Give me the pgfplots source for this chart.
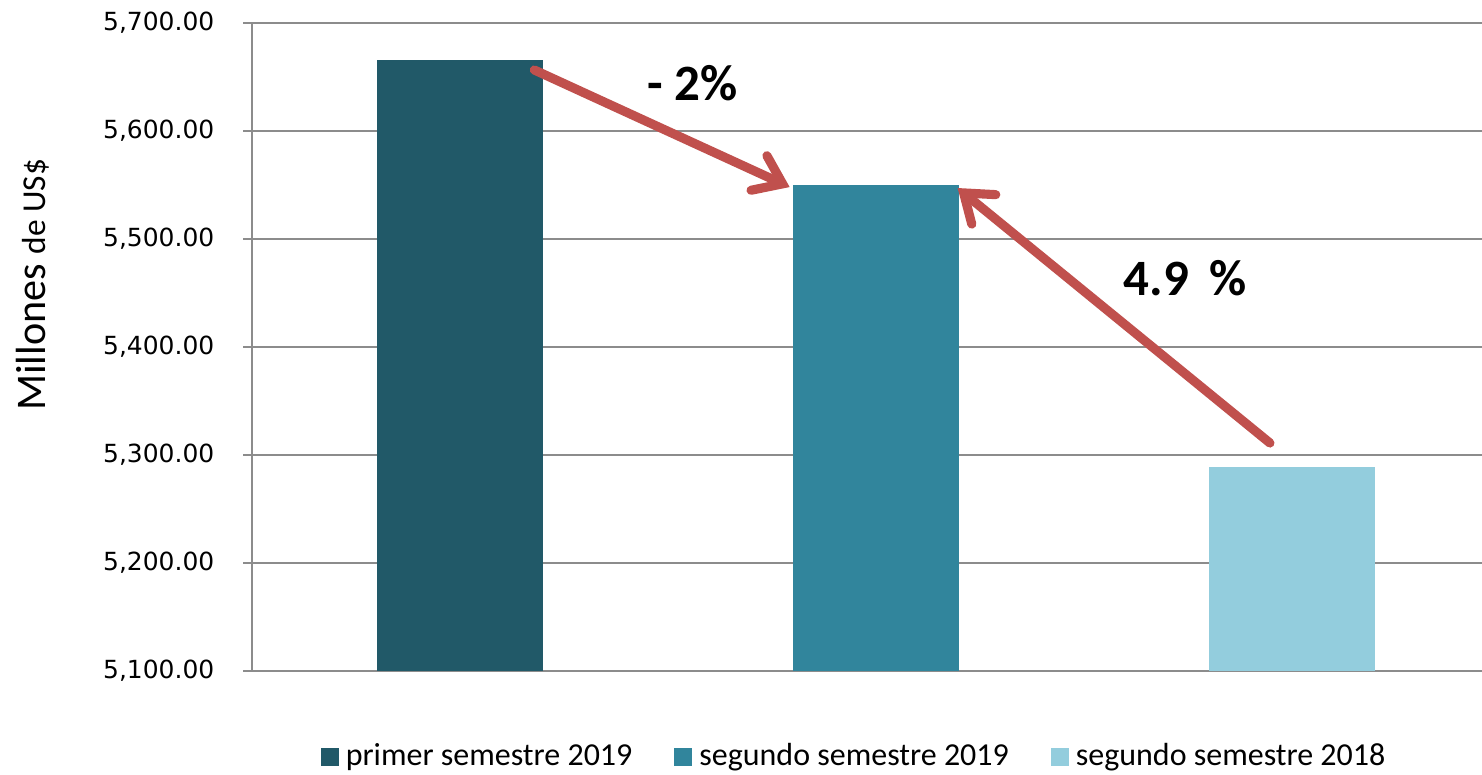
\documentclass[border=0pt]{standalone}
\usepackage{fontspec}
\setmainfont{Carlito}
\newfontfamily\tickfont{DejaVu Sans}
\usepackage{pgfplots}
\pgfplotsset{compat=1.18}
\usetikzlibrary{arrows.meta}
\definecolor{bardark}{RGB}{33,89,104}
\definecolor{barmid}{RGB}{49,133,156}
\definecolor{barlight}{RGB}{147,205,221}
\definecolor{arrowred}{RGB}{192,80,77}
\definecolor{gridgray}{RGB}{140,140,140}

\begin{document}
\begin{tikzpicture}
\begin{axis}[
  scale only axis, width=12.30cm, height=6.48cm,
  xmin=-0.5, xmax=2.458, ymin=5100, ymax=5700,
  ytick={5100,5200,...,5700},
  xtick=\empty,
  scaled y ticks=false,
  axis x line*=bottom, axis y line*=left,
  axis line style={gridgray, line width=0.6pt, -},
  ymajorgrids, grid style={gridgray, line width=0.6pt},
  tick align=outside, major tick length=0.09cm,
  tick style={gridgray, line width=0.6pt},
  yticklabel style={font=\tickfont\fontsize{7.1}{9}\selectfont, inner sep=0pt, xshift=-0.28cm,
    /pgf/number format/fixed, /pgf/number format/fixed zerofill,
    /pgf/number format/precision=2, /pgf/number format/1000 sep={,},
    /pgf/number format/assume math mode=true},
  ylabel={Millones {\fontsize{9.5}{11}\selectfont de US\$}},
  ylabel style={font=\fontsize{12}{14}\selectfont, at={(axis description cs:-0.178,0.596)}, anchor=center},
  legend columns=3,
  legend style={draw=none, at={(0.4915,-0.133)}, anchor=center,
    font=\fontsize{9.1}{11}\selectfont,
    /tikz/every even column/.append style={column sep=0.35cm}},
  legend image code/.code={\fill[#1] (0cm,-0.09cm) rectangle (0.18cm,0.09cm);},
]
\addplot[ybar, bar width=1.66cm, bar shift=0pt, fill=bardark, draw=none] coordinates {(0,5666)};
\addlegendentry{primer semestre 2019}
\addplot[ybar, bar width=1.66cm, bar shift=0pt, fill=barmid, draw=none] coordinates {(1,5550)};
\addlegendentry{segundo semestre 2019}
\addplot[ybar, bar width=1.66cm, bar shift=0pt, fill=barlight, draw=none] coordinates {(2,5289)};
\addlegendentry{segundo semestre 2018}

\draw[arrowred, line width=2.6pt, line cap=round,
  -{Straight Barb[length=0.26cm, width=0.38cm, line cap=round]}]
  (axis cs:0.179,5656.5) -- (axis cs:0.793,5548.1);
\draw[arrowred, line width=2.6pt, line cap=round,
  -{Straight Barb[length=0.26cm, width=0.38cm, line cap=round]}]
  (axis cs:1.948,5311.1) -- (axis cs:1.197,5547.2);
\node[font=\bfseries\fontsize{14.5}{17}\selectfont] at (axis cs:0.56,5644) {- 2\%};
\node[font=\bfseries\fontsize{14.5}{17}\selectfont] at (axis cs:1.744,5464) {4.9 \,\%};

\coordinate (bl) at (axis description cs:-0.2049,-0.159);
\coordinate (tr) at (axis description cs:1,1.0355);
\end{axis}
\pgfresetboundingbox
\path (bl) rectangle (tr);
\end{tikzpicture}
\end{document}
